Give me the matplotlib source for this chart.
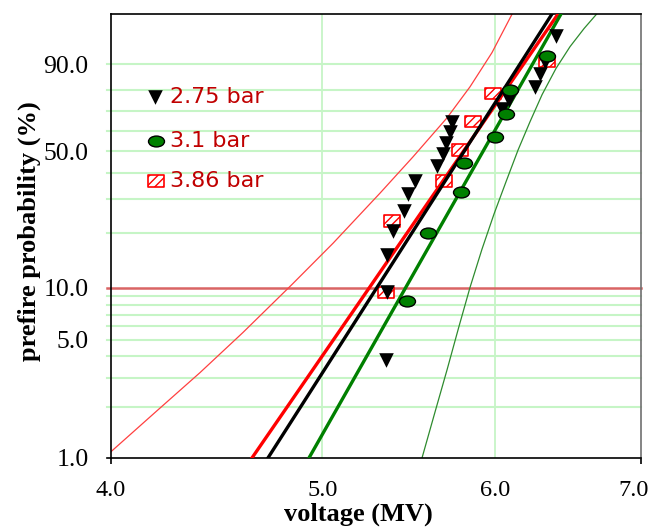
import matplotlib
matplotlib.use("Agg")
import matplotlib.pyplot as plt
import numpy as np
from matplotlib.path import Path
from matplotlib.transforms import Affine2D, ScaledTranslation
from matplotlib.ticker import FixedLocator, FixedFormatter, NullLocator

plt.rcParams["font.family"] = ["Liberation Serif", "DejaVu Serif"]
plt.rcParams["hatch.color"] = "red"
plt.rcParams["hatch.linewidth"] = 1.0

# prefire data (voltage in MV, probability in %)
V_275 = [5.348, 5.354, 5.354, 5.387, 5.450, 5.474, 5.514, 5.644, 5.680,
         5.697, 5.722, 5.734, 6.045, 6.090, 6.259, 6.292, 6.326, 6.399]
P_275 = [3.8, 9.4, 15.2, 20.5, 26.2, 31.9, 36.9, 43.2, 48.7,
         54.1, 59.6, 64.7, 71.2, 75.6, 81.5, 86.8, 90.8, 96.7]

V_310 = [5.468, 5.590, 5.788, 5.807, 6.000, 6.070, 6.096, 6.339]
P_310 = [8.4, 20.1, 32.6, 44.5, 57.0, 68.7, 80.2, 92.3]

V_386 = [5.348, 5.382, 5.685, 5.782, 5.862, 5.988, 6.339]
P_386 = [9.4, 23.2, 36.9, 50.6, 64.7, 78.4, 90.8]

# fitted Weibull lines, given by their end points at 1 % and 99 %
FIT_P = [1.0, 99.0]
FIT_V_275 = [4.721, 6.372]
FIT_V_310 = [4.930, 6.433]
FIT_V_386 = [4.642, 6.413]

# confidence bounds (thin curves)
LOW_V = [4.000, 4.199, 4.394, 4.598, 4.843, 5.057, 5.314, 5.502, 5.704,
         5.844, 5.981, 6.115, 6.167]
LOW_P = [1.09, 1.91, 3.21, 5.52, 10.45, 17.69, 32.2, 47.3, 66.7,
         81.5, 93.3, 99.1, 99.7]
HIGH_V = [5.555, 5.632, 5.704, 5.776, 5.844, 5.918, 5.994, 6.070, 6.148,
          6.226, 6.306, 6.399, 6.495, 6.592, 6.690, 6.746]
HIGH_P = [1.0, 1.88, 3.34, 5.98, 10.05, 16.4, 25.3, 36.5, 50.6,
          64.7, 78.0, 88.6, 94.7, 97.7, 99.1, 99.48]

GRID_P = [2, 3, 4, 5, 6, 7, 8, 9, 20, 30, 40, 50, 60, 70, 80, 90]
Y_TICKS = [1, 5, 10, 50, 90]
Y_LABELS = ["1.0", "5.0", "10.0", "50.0", "90.0"]
X_TICKS = [4, 5, 6, 7]
X_LABELS = ["4.0", "5.0", "6.0", "7.0"]

SERIES = ["2.75 bar", "3.1 bar", "3.86 bar"]


def weibull(p):
    p = np.clip(np.asarray(p, dtype=float), 1e-6, 100 - 1e-6) / 100.0
    return np.log(-np.log(1.0 - p))


def weibull_inv(w):
    w = np.clip(np.asarray(w, dtype=float), -30, 3.5)
    return 100.0 * (1.0 - np.exp(-np.exp(w)))


ellipse = Affine2D().scale(1.0, 0.68).transform_path(Path.unit_circle())
rect = Path([(-1, -0.72), (1, -0.72), (1, 0.72), (-1, 0.72), (-1, -0.72)], closed=True)

fig, ax = plt.subplots(figsize=(6.52, 5.31), dpi=100)
fig.subplots_adjust(left=0.1702, right=0.9831, bottom=0.1375, top=0.9736)

ax.set_xscale("log")
ax.set_yscale("function", functions=(weibull, weibull_inv))
ax.set_xlim(4, 7)
ax.set_ylim(1, 99)

grid_c = "#c6f5c6"
for p in GRID_P:
    ax.axhline(p, xmin=-0.008, xmax=1, color=grid_c, lw=1.5, clip_on=False, zorder=1)
for v in (5, 6):
    ax.axvline(v, color=grid_c, lw=1.3, zorder=1)
ax.axhline(10, xmin=-0.008, xmax=1, color="#d96464", lw=1.8, clip_on=False, zorder=1.5)
ax.plot([-0.008, 0], [0, 0], transform=ax.transAxes, color="black", lw=1.2, clip_on=False)

# confidence bounds
ax.plot(LOW_V, LOW_P, color="#ff4040", lw=0.9, zorder=2)
ax.plot(HIGH_V, HIGH_P, color="#2e8b2e", lw=0.9, zorder=2)

# markers and fit lines
ax.scatter(V_386, P_386, marker=rect, s=11.5 ** 2, facecolor="white", edgecolor="red",
           hatch="////", linewidths=1.2, zorder=2.5)
ax.plot(FIT_V_386, FIT_P, color="red", lw=2.4, zorder=3)
ax.plot(FIT_V_275, FIT_P, color="black", lw=2.4, zorder=3)
ax.plot(FIT_V_310, FIT_P, color="green", lw=2.4, zorder=3)
ax.scatter(V_275, P_275, marker="v", s=10.5 ** 2, color="black", linewidths=0, zorder=4)
ax.scatter(V_310, P_310, marker=ellipse, s=11.5 ** 2, facecolor="green", edgecolor="black",
           linewidths=1.0, zorder=5)

# hand-made legend
leg_y = [0.813, 0.714, 0.624]
ax.scatter([0.083], [leg_y[0]], marker="v", s=10.5 ** 2, color="black", linewidths=0,
           transform=ax.transAxes, zorder=6)
ax.scatter([0.085], [leg_y[1]], marker=ellipse, s=11.5 ** 2, facecolor="green",
           edgecolor="black", linewidths=1.0, transform=ax.transAxes, zorder=6)
ax.scatter([0.085], [leg_y[2]], marker=rect, s=11.5 ** 2, facecolor="white", edgecolor="red",
           hatch="////", linewidths=1.2, transform=ax.transAxes, zorder=6)
for name, y in zip(SERIES, leg_y):
    ax.text(0.111, y, name, transform=ax.transAxes, va="center", ha="left",
            color="#c00000", fontsize=16, family=["DejaVu Sans"])

ax.xaxis.set_major_locator(FixedLocator(X_TICKS))
ax.xaxis.set_major_formatter(FixedFormatter(X_LABELS))
ax.xaxis.set_minor_locator(NullLocator())
ax.yaxis.set_major_locator(FixedLocator(Y_TICKS))
ax.yaxis.set_major_formatter(FixedFormatter(Y_LABELS))
ax.yaxis.set_minor_locator(NullLocator())
ax.tick_params(axis="x", length=4, width=1.2, pad=12, labelsize=17.5)
ax.tick_params(axis="y", length=0, pad=16, labelsize=18.5)
for tick, v in zip(ax.xaxis.get_major_ticks(), X_TICKS):
    if v in (5, 6):
        tick.tick1line.set_visible(False)
    if v == 7:
        # nudge the last label so it stays inside the figure
        lab = tick.label1
        lab.set_transform(lab.get_transform() + ScaledTranslation(-5 / 72, 0, fig.dpi_scale_trans))

for side in ("left", "bottom", "top"):
    ax.spines[side].set_linewidth(1.2)
    ax.spines[side].set_color("black")
ax.spines["right"].set_linewidth(1.2)
ax.spines["right"].set_color("#707070")

ax.set_xlabel("voltage (MV)", fontsize=19, fontweight="bold")
ax.set_ylabel("prefire probability (%)", fontsize=19, fontweight="bold")
ax.xaxis.set_label_coords(0.466, -0.100)
ax.yaxis.set_label_coords(-0.132, 0.51)

fig.savefig("out.png", dpi=100)
